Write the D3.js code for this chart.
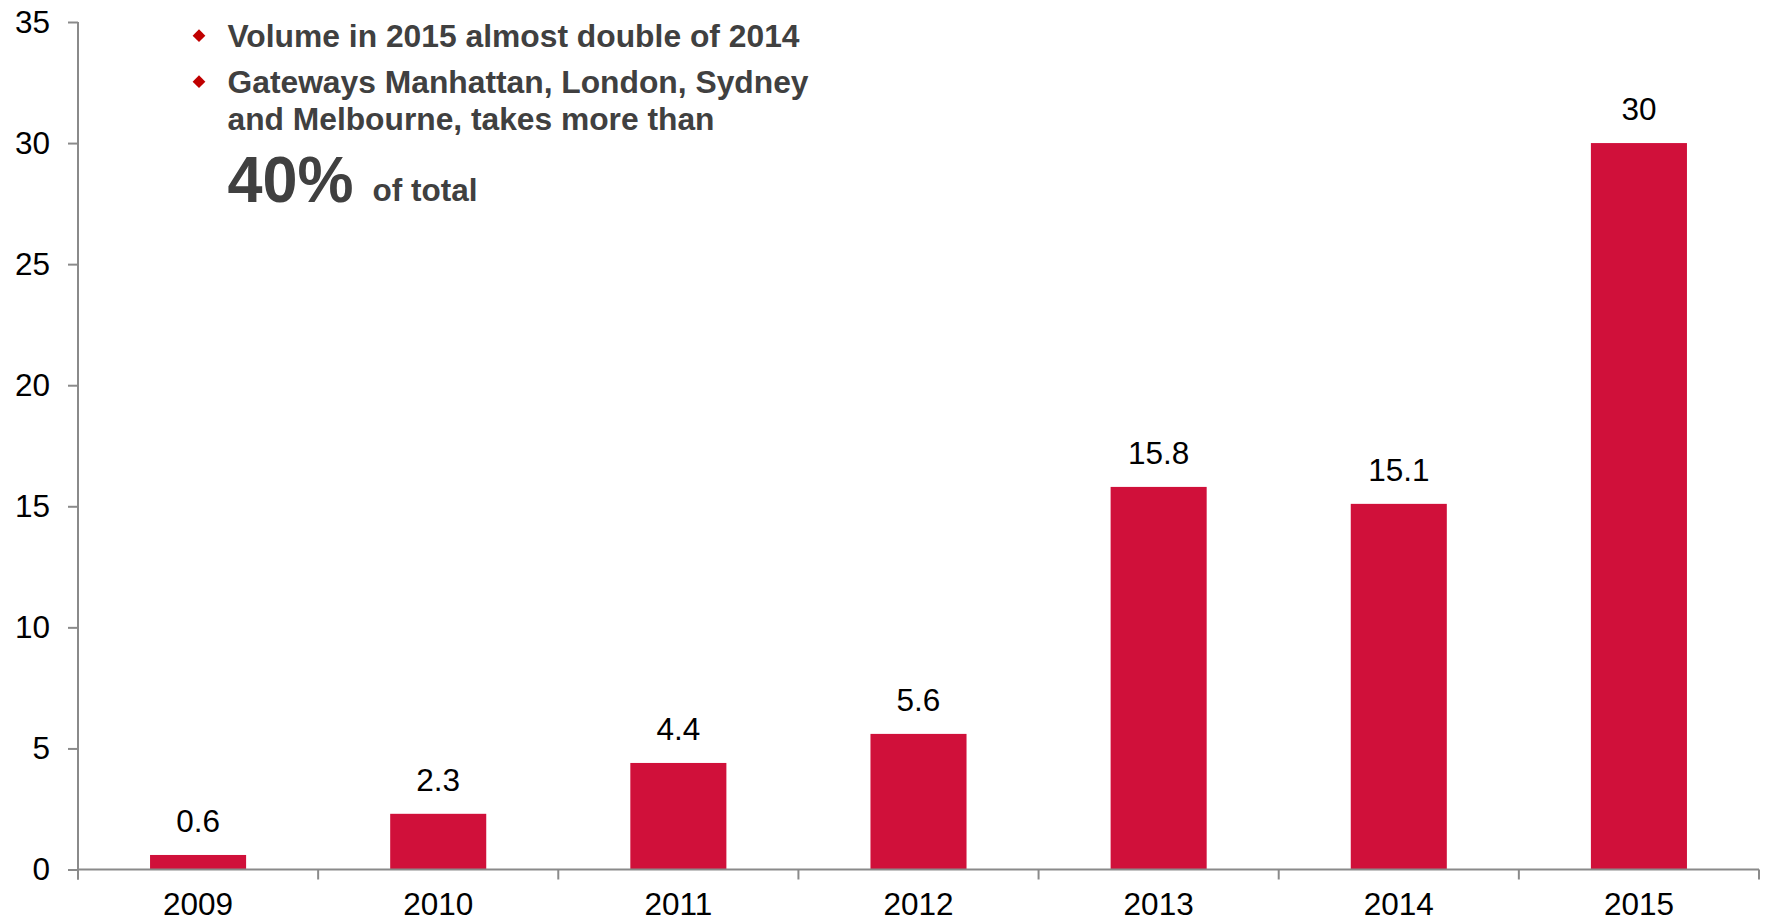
<!DOCTYPE html>
<html>
<head>
<meta charset="utf-8">
<script src="https://cdn.jsdelivr.net/npm/d3@7"></script>
<style>
  html, body { margin: 0; padding: 0; background: #ffffff; }
  svg { display: block; }
  text { font-family: "Liberation Sans", Arial, sans-serif; }
</style>
</head>
<body>
<svg id="chart" width="1766" height="923"></svg>
<script>
// Transaction volume by year
const years = ["2009", "2010", "2011", "2012", "2013", "2014", "2015"];
const volumes = [0.6, 2.3, 4.4, 5.6, 15.8, 15.1, 30];
const yTicks = [0, 5, 10, 15, 20, 25, 30, 35];

// Notes shown in the upper-left corner
const bulletLines = [
  ["Volume in 2015 almost double of 2014"],
  ["Gateways Manhattan, London, Sydney", "and Melbourne, takes more than"]
];
const highlightValue = "40%";
const highlightSuffix = "of total";

const svg = d3.select("#chart");
const axisColor = "#8a8a8a";
const barColor = "#d0103a";
const noteColor = "#404040";
const labelSize = 31.5;

const plot = { left: 78, right: 1759, top: 22, bottom: 869.5 };

const x = d3.scaleBand()
  .domain(years)
  .range([plot.left, plot.right])
  .paddingInner(0.6)
  .paddingOuter(0.3);

const y = d3.scaleLinear()
  .domain([0, 35])
  .range([plot.bottom, plot.top]);

// Bars
svg.append("g")
  .selectAll("rect")
  .data(years)
  .join("rect")
  .attr("x", d => x(d))
  .attr("width", x.bandwidth())
  .attr("y", (d, i) => y(volumes[i]))
  .attr("height", (d, i) => y(0) - y(volumes[i]))
  .attr("fill", barColor);

// Value labels above bars
svg.append("g")
  .selectAll("text")
  .data(years)
  .join("text")
  .attr("x", d => x(d) + x.bandwidth() / 2)
  .attr("y", (d, i) => y(volumes[i]) - 23)
  .attr("text-anchor", "middle")
  .attr("font-size", labelSize)
  .attr("fill", "#000")
  .text((d, i) => d3.format("")(volumes[i]));

// Y axis
const yAxis = svg.append("g")
  .attr("transform", `translate(${plot.left},0)`)
  .call(d3.axisLeft(y).tickValues(yTicks).tickSize(10).tickSizeOuter(0).tickPadding(18));
yAxis.select(".domain").attr("stroke", axisColor).attr("stroke-width", 2)
  .attr("d", `M0,${plot.top}V${plot.bottom + 10}`);
yAxis.selectAll(".tick line").attr("stroke", axisColor).attr("stroke-width", 2);
yAxis.selectAll(".tick text")
  .attr("font-size", labelSize)
  .attr("fill", "#000")
  .attr("font-family", "'Liberation Sans', Arial, sans-serif");

// X axis line with tick marks at category boundaries
const xAxis = svg.append("g");
xAxis.append("line")
  .attr("x1", plot.left).attr("x2", plot.right)
  .attr("y1", y(0)).attr("y2", y(0))
  .attr("stroke", axisColor).attr("stroke-width", 2);
const boundaries = years.map(d => x(d) - x.step() * x.paddingOuter())
  .concat([plot.right]);
xAxis.selectAll("line.boundary")
  .data(boundaries)
  .join("line")
  .attr("class", "boundary")
  .attr("x1", d => d).attr("x2", d => d)
  .attr("y1", y(0)).attr("y2", y(0) + 10)
  .attr("stroke", axisColor).attr("stroke-width", 2);
xAxis.selectAll("text")
  .data(years)
  .join("text")
  .attr("x", d => x(d) + x.bandwidth() / 2)
  .attr("y", 915)
  .attr("text-anchor", "middle")
  .attr("font-size", labelSize)
  .attr("fill", "#000")
  .text(d => d);

// Notes
const notes = svg.append("g");
const bulletY = [35.7, 81.7];
const lineBaselines = [[46.5], [92.5, 130]];
const lineWidths = [[572], [581, 487]];
bulletLines.forEach((lines, bi) => {
  notes.append("rect")
    .attr("x", -4.5).attr("y", -4.5)
    .attr("width", 9).attr("height", 9)
    .attr("fill", "#c00000")
    .attr("transform", `translate(199,${bulletY[bi]}) rotate(45)`);
  lines.forEach((line, li) => {
    notes.append("text")
      .attr("x", 227.5)
      .attr("y", lineBaselines[bi][li])
      .attr("font-size", 31)
      .attr("font-weight", "bold")
      .attr("fill", noteColor)
      .attr("textLength", lineWidths[bi][li])
      .attr("lengthAdjust", "spacingAndGlyphs")
      .text(line);
  });
});
notes.append("text")
  .attr("x", 227.5).attr("y", 201.5)
  .attr("font-size", 65)
  .attr("font-weight", "bold")
  .attr("fill", noteColor)
  .attr("textLength", 126)
  .attr("lengthAdjust", "spacingAndGlyphs")
  .text(highlightValue);
notes.append("text")
  .attr("x", 372.5).attr("y", 201)
  .attr("font-size", 31)
  .attr("font-weight", "bold")
  .attr("fill", noteColor)
  .attr("textLength", 105)
  .attr("lengthAdjust", "spacingAndGlyphs")
  .text(highlightSuffix);
</script>
</body>
</html>
